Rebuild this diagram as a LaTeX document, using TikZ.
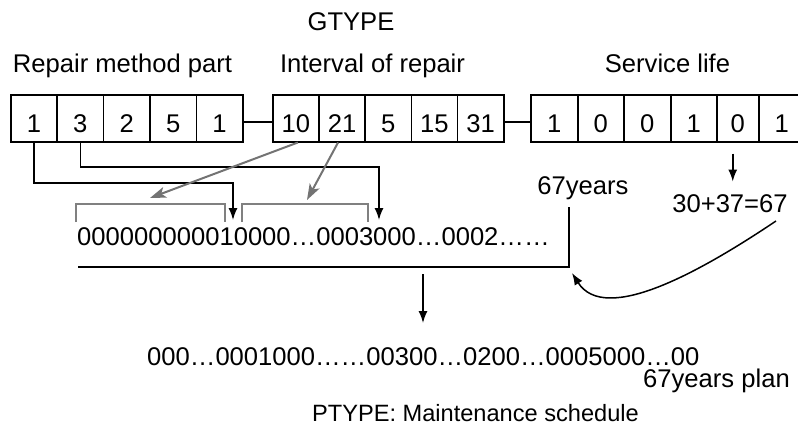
\documentclass[tikz,border=0pt]{standalone}
\usepackage{fontspec}
\setmainfont{Liberation Sans}
\usetikzlibrary{arrows.meta,calc}
\begin{document}
\begin{tikzpicture}[x=1pt,y=-1pt,
  txt/.style={font=\fontsize{25.6}{28}\selectfont, inner sep=0pt},
  cell/.style={draw, line width=1.5pt, minimum height=47pt, inner sep=0pt, anchor=north west,
    text height=28.4pt, text depth=0pt, font=\fontsize{25.6}{28}\selectfont},
  wire/.style={line width=1.5pt},
  blk/.style={line width=1.5pt, -{Latex[length=12pt,width=9pt]}},
  gry/.style={line width=2pt, draw=black!55, -{Stealth[length=16pt,width=11pt,inset=4pt]}},
  brk/.style={line width=2pt, draw=black!50}]
\useasboundingbox (0,0) rectangle (798,428);
% titles
\node[txt, anchor=base] (gt) at (351,31) {GTYPE};
\node[txt, anchor=base] (l1) at (122.5,73) {Repair method part};
\node[txt, anchor=base] (l2) at (372.5,73) {Interval of repair};
\node[txt, anchor=base] (l3) at (667.5,73) {Service life};
% group 1
\node[cell, minimum width=46.4pt] (a1) at (10,94) {1};
\node[cell, minimum width=46.4pt] (a2) at (56.4,94) {3};
\node[cell, minimum width=46.4pt] (a3) at (102.8,94) {2};
\node[cell, minimum width=46.4pt] (a4) at (149.2,94) {5};
\node[cell, minimum width=46.4pt] (a5) at (195.6,94) {1};
% group 2
\node[cell, minimum width=46.2pt] (b1) at (272,94) {10};
\node[cell, minimum width=46.2pt] (b2) at (318.2,94) {21};
\node[cell, minimum width=46.2pt] (b3) at (364.4,94) {5};
\node[cell, minimum width=46.2pt] (b4) at (410.6,94) {15};
\node[cell, minimum width=46.2pt] (b5) at (456.8,94) {31};
% group 3
\node[cell, minimum width=47pt] (c1) at (530,94) {1};
\node[cell, minimum width=46pt] (c2) at (577,94) {0};
\node[cell, minimum width=47pt] (c3) at (623,94) {0};
\node[cell, minimum width=46pt] (c4) at (670,94) {1};
\node[cell, minimum width=42pt] (c5) at (716,94) {0};
\node[cell, minimum width=46pt] (c6) at (758,94) {1};
% group links
\draw[wire] ($(a5.east)+(0,3.5)$) -- ($(b1.west)+(0,3.5)$);
\draw[wire] ($(b5.east)+(0,3.5)$) -- ($(c1.west)+(0,3.5)$);
% brackets
\coordinate (k1l) at (76,222); \coordinate (k1r) at (225,222);
\coordinate (k2l) at (242,222); \coordinate (k2r) at (368,222);
\draw[brk] (k1l) -- ++(0,-18) -| (k1r);
\draw[brk] (k2l) -- ++(0,-18) -| (k2r);
% sequence text
\node[txt, anchor=base west] (seq) at (77,245) {000000000010000…0003000…0002……};
% black arrows from method part
\coordinate (t1) at (233,220);
\coordinate (t2) at (379,220);
\draw[blk] (a1.south) |- ($(t1)+(0,-37)$) -- (t1);
\draw[blk] (a2.south) |- ($(t2)+(0,-53)$) -- (t2);
% gray arrows from interval
\coordinate (g1) at (150,198);
\coordinate (g2) at (307,200);
\draw[gry] ($(b1.south)+(2,0)$) -- (g1);
\draw[gry] ($(b2.south)+(-4,0)$) -- (g2);
% service life
\node[txt, anchor=base] (yrs) at (583,194) {67years};
\node[txt, anchor=base] (sum) at (730,212.5) {30+37=67};
\draw[blk] ($(c5.south)+(-5,11)$) -- ++(0,28);
\coordinate (ln) at (78,267);
\coordinate (lc) at (569,207);
\draw[wire] (ln) -| (lc);
\coordinate (cs) at (776,221);
\coordinate (ce) at (572,273);
\draw[blk] (cs) .. controls (700,272) and (605,325) .. (ce);
% down arrow
\draw[blk] ($(ln)+(345,7)$) -- ++(0,49);
% result
\node[txt, anchor=base west] (res) at (147,365) {000…0001000……00300…0200…0005000…00};
\node[txt, anchor=base east] (plan) at (790,387) {67years plan};
\node[txt, anchor=base, font=\fontsize{23.6}{26}\selectfont] (pt) at (475.5,421) {PTYPE: Maintenance schedule};
\end{tikzpicture}
\end{document}
